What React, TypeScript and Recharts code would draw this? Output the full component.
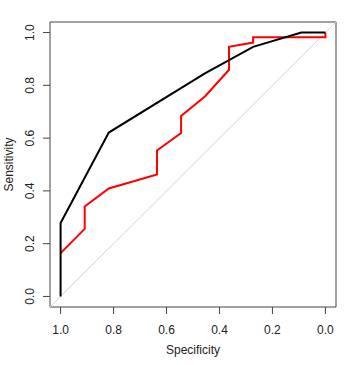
import React from 'react'
import {
  LineChart,
  Line,
  XAxis,
  YAxis,
  ReferenceArea,
} from 'recharts'

// ROC curve points (specificity, sensitivity)
const blackSpec = [1.0, 1.0, 0.818, 0.455, 0.273, 0.091, 0.0]
const blackSens = [0.0, 0.278, 0.621, 0.845, 0.946, 1.0, 1.0]

const redSpec = [
  1.0, 0.909, 0.909, 0.818, 0.636, 0.636, 0.545, 0.545, 0.455, 0.364, 0.364,
  0.273, 0.273, 0.0, 0.0,
]
const redSens = [
  0.164, 0.256, 0.341, 0.409, 0.462, 0.553, 0.619, 0.684, 0.758, 0.859, 0.946,
  0.962, 0.982, 0.982, 1.0,
]

// chance diagonal spans the whole plot region (abline style)
const chanceSpec = [1.04, -0.04]
const chanceSens = [-0.04, 1.04]

const axisTicks = [0, 0.2, 0.4, 0.6, 0.8, 1.0]

const toPoints = (spec: number[], sens: number[]) =>
  spec.map((s, i) => ({ spec: s, sens: sens[i] }))

const FONT = '"Liberation Sans", Arial, sans-serif'
const INK = '#222'
const FRAME = '#444'

function XTick({ x, y, payload }: any) {
  return (
    <text
      x={x}
      y={y + 18}
      textAnchor="middle"
      fontFamily={FONT}
      fontSize={12}
      fill={INK}
    >
      {Number(payload.value).toFixed(1)}
    </text>
  )
}

function YTick({ x, y, payload }: any) {
  const bx = x - 6.5
  return (
    <text
      x={bx}
      y={y}
      transform={`rotate(-90 ${bx} ${y})`}
      textAnchor="middle"
      fontFamily={FONT}
      fontSize={12}
      fill={INK}
    >
      {Number(payload.value).toFixed(1)}
    </text>
  )
}

export default function App() {
  const black = toPoints(blackSpec, blackSens)
  const red = toPoints(redSpec, redSens)
  const chance = toPoints(chanceSpec, chanceSens)

  return (
    <div style={{ position: 'fixed', left: 0, top: 0, background: '#fff' }}>
      <LineChart
        width={348}
        height={365}
        margin={{ top: 22, right: 12, left: 0, bottom: 0 }}
      >
        <XAxis
          dataKey="spec"
          type="number"
          domain={[-0.04, 1.04]}
          allowDataOverflow
          reversed
          ticks={axisTicks}
          height={58}
          axisLine={false}
          tickSize={7}
          tickLine={{ stroke: FRAME }}
          tick={<XTick />}
          label={{
            value: 'Specificity',
            position: 'insideBottom',
            offset: 11,
            style: { fontFamily: FONT, fontSize: 12, fill: INK },
          }}
        />
        <YAxis
          dataKey="sens"
          type="number"
          domain={[-0.04, 1.04]}
          allowDataOverflow
          ticks={axisTicks}
          width={50}
          axisLine={false}
          tickSize={7}
          tickLine={{ stroke: FRAME }}
          tick={<YTick />}
          label={{
            value: 'Sensitivity',
            angle: -90,
            position: 'insideLeft',
            offset: 9,
            style: {
              fontFamily: FONT,
              fontSize: 12,
              fill: INK,
              textAnchor: 'middle',
            },
          }}
        />

        {/* plot frame */}
        <ReferenceArea
          x1={-0.04}
          x2={1.04}
          y1={-0.04}
          y2={1.04}
          fill="none"
          stroke={FRAME}
          strokeWidth={1}
        />

        <Line
          data={chance}
          dataKey="sens"
          type="linear"
          stroke="#d3d3d3"
          strokeWidth={1}
          dot={false}
          isAnimationActive={false}
        />
        <Line
          data={red}
          dataKey="sens"
          type="linear"
          stroke="#ff0000"
          strokeWidth={2}
          dot={false}
          isAnimationActive={false}
        />
        <Line
          data={black}
          dataKey="sens"
          type="linear"
          stroke="#000000"
          strokeWidth={2}
          dot={false}
          isAnimationActive={false}
        />
      </LineChart>
    </div>
  )
}
